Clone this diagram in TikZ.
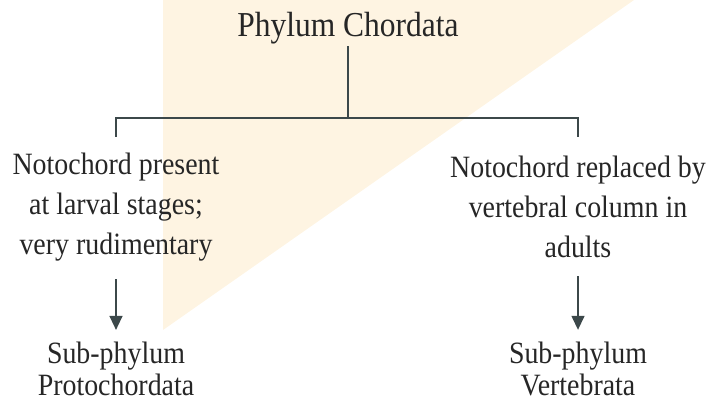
\documentclass[tikz,border=0pt]{standalone}
\usepackage{fontspec}
\setmainfont{Liberation Serif}[FakeStretch=0.9]
\usepackage{xcolor}
\usepackage{tikz}
\usetikzlibrary{arrows.meta, positioning, calc}
\definecolor{washorange}{RGB}{254, 244, 226}
\definecolor{linegray}{RGB}{60, 72, 74}

\begin{document}
\begin{tikzpicture}[
    x=1pt, y=1pt,
    every node/.style={text=black!85},
    title/.style={font=\fontsize{35}{40}\selectfont, inner sep=2pt},
    branch/.style={align=center, font=\fontsize{31}{40}\selectfont, inner sep=2pt},
    taxon/.style={align=center, font=\fontsize{31}{32}\selectfont, inner sep=2pt},
    link/.style={draw=linegray, line width=1.4pt},
    arrow/.style={link, -{Triangle[width=13pt, length=14pt]}}
]
\useasboundingbox (0,0) rectangle (708,402);
\fill[washorange] (163,402) -- (634,402) -- (163,72) -- cycle;

\node[title] (phylum) at (348,374) {Phylum Chordata};
\node[branch] (proto-note) at (116,195) {Notochord present\\at larval stages;\\very rudimentary};
\node[branch] (verte-note) at (578,195) {Notochord replaced by\\vertebral column in\\adults};
\node[taxon] (proto) at (116,33) {Sub-phylum\\Protochordata};
\node[taxon] (verte) at (578,33) {Sub-phylum\\Vertebrata};
\coordinate (fork) at (348,284);
\coordinate (proto-top) at (116,265);
\coordinate (verte-top) at (578,265);

\draw[link] (phylum.south) -- (fork);
\draw[link] (proto-top) -- (proto-top |- fork) -- (verte-top |- fork) -- (verte-top);
\draw[arrow, shorten <=16pt, shorten >=10pt] (proto-note.south) -- (proto.north);
\draw[arrow, shorten <=16pt, shorten >=10pt] (verte-note.south) -- (verte.north);
\end{tikzpicture}
\end{document}
